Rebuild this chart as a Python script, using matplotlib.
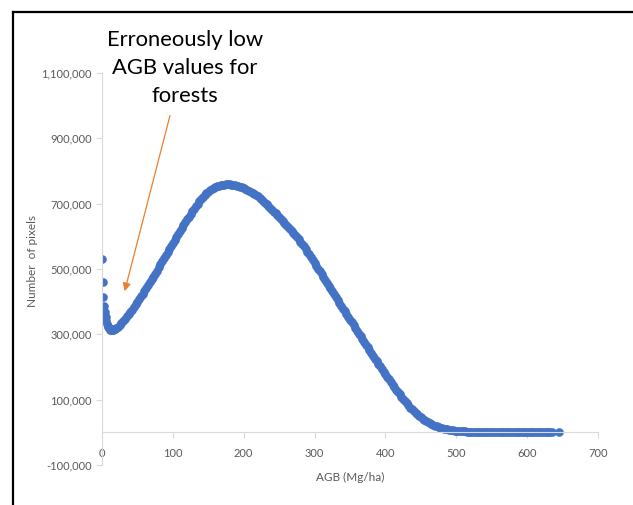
import matplotlib
matplotlib.use('Agg')
import matplotlib.pyplot as plt
from matplotlib.lines import Line2D
from matplotlib.ticker import FuncFormatter
import numpy as np

# AGB bin (Mg/ha) and pixel count (thousands)
agb = [0, 1, 2, 3, 4, 5, 6, 7, 8, 9, 10, 11, 12, 13, 14, 15, 16, 17, 18, 19,
       20, 22.5, 25, 27.5, 30, 32.5, 35, 37.5, 40, 42.5, 45, 47.5, 50, 52.5, 55, 57.5,
       60, 62.5, 65, 67.5, 70, 72.5, 75, 77.5, 80, 82.5, 85, 87.5, 90, 92.5, 95, 97.5,
       100, 102.5, 105, 107.5, 110, 112.5, 115, 117.5, 120, 122.5, 125, 127.5,
       130, 132.5, 135, 137.5, 140, 142.5, 145, 147.5, 150, 152.5, 155, 157.5,
       160, 162.5, 165, 167.5, 170, 172.5, 175, 177.5, 180, 182.5, 185, 187.5,
       190, 192.5, 195, 197.5, 200, 202.5, 205, 207.5, 210, 212.5, 215, 217.5,
       220, 222.5, 225, 227.5, 230, 232.5, 235, 237.5, 240, 242.5, 245, 247.5,
       250, 252.5, 255, 257.5, 260, 262.5, 265, 267.5, 270, 272.5, 275, 277.5,
       280, 282.5, 285, 287.5, 290, 292.5, 295, 297.5, 300, 302.5, 305, 307.5,
       310, 312.5, 315, 317.5, 320, 322.5, 325, 327.5, 330, 332.5, 335, 337.5,
       340, 342.5, 345, 347.5, 350, 352.5, 355, 357.5, 360, 362.5, 365, 367.5,
       370, 372.5, 375, 377.5, 380, 382.5, 385, 387.5, 390, 392.5, 395, 397.5,
       400, 402.5, 405, 407.5, 410, 412.5, 415, 417.5, 420, 422.5, 425, 427.5,
       430, 432.5, 435, 437.5, 440, 442.5, 445, 447.5, 450, 452.5, 455, 457.5,
       460, 462.5, 465, 467.5, 470, 472.5, 475, 477.5, 480, 482.5, 485, 487.5,
       490, 492.5, 495, 497.5, 500, 502.5, 505, 507.5, 510, 512.5, 515, 517.5,
       520, 522.5, 525, 527.5, 530, 532.5, 535, 537.5, 540, 542.5, 545, 547.5,
       550, 552.5, 555, 557.5, 560, 562.5, 565, 567.5, 570, 572.5, 575, 577.5,
       580, 582.5, 585, 587.5, 590, 592.5, 595, 597.5, 600, 602.5, 605, 607.5,
       610, 612.5, 615, 617.5, 620, 622.5, 625, 627.5, 630, 632.5, 635, 645]
pixels_k = [532, 461, 415, 388, 368, 352, 340, 331, 325, 321, 318, 316, 314, 313.5, 313, 313.5, 314, 315, 316, 317.5,
            319, 324, 329, 335, 341, 348, 355, 361, 368, 376, 384, 392, 400, 408, 417, 425,
            434, 442, 451, 459, 468, 477, 486, 495, 505, 514, 524, 533, 543, 552, 562, 571,
            580, 590, 599, 608, 617, 626, 635, 643, 652, 660, 669, 677,
            685, 692, 700, 707, 714, 720, 726, 732, 737, 741, 745, 748,
            751, 753, 755, 757, 758, 758.5, 759, 759, 759, 758.5, 758, 756.5,
            755, 753.5, 752, 750, 748, 745.5, 743, 740, 737, 733.5, 730, 726,
            722, 717.5, 713, 708, 703, 697.5, 692, 686.5, 681, 675.5, 670, 664.5,
            659, 653, 647, 641, 635, 628.5, 622, 615.5, 609, 603.5, 598, 591,
            584, 576.5, 569, 561, 553, 544.5, 536, 527.5, 519, 510, 501, 492.5,
            484, 475.5, 467, 458, 449, 440.5, 432, 423, 414, 405.5, 397, 388,
            379, 370.5, 362, 353.5, 345, 336.5, 328, 319.5, 311, 302.5, 294, 285.5,
            277, 268.5, 260, 251.5, 243, 234.5, 226, 218, 210, 202, 194, 186,
            178, 170, 162, 154, 146, 138.5, 131, 123.5, 116, 109, 102, 95.5,
            89, 82.5, 76, 70.5, 65, 60, 55, 50.5, 46, 42, 38, 34.5,
            31, 28, 25, 22.5, 20, 18, 16, 14.5, 13, 11.5, 10, 9,
            8, 7, 6, 5.5, 5, 4.5, 4, 3.5, 3, 2.8, 2.5, 2.2,
            2, 1.8, 1.5, 1.3, 1.2, 1.1, 1.0, 0.95, 0.9, 0.85, 0.8, 0.75,
            0.7, 0.7, 0.7, 0.65, 0.6, 0.6, 0.6, 0.55, 0.5, 0.5, 0.5, 0.5,
            0.5, 0.45, 0.4, 0.4, 0.4, 0.4, 0.4, 0.4, 0.4, 0.35, 0.3, 0.3,
            0.3, 0.3, 0.3, 0.3, 0.3, 0.3, 0.3, 0.3, 0.3, 0.3, 0.3, 0.2]
pixels = np.array(pixels_k) * 1000

xticks = [0, 100, 200, 300, 400, 500, 600, 700]
yticks = [-100000, 100000, 300000, 500000, 700000, 900000, 1100000]

grey = '#595959'
axis_grey = '#D9D9D9'

plt.rcParams['font.family'] = ['Lato', 'DejaVu Sans']

fig = plt.figure(figsize=(6.33, 5.05), dpi=100)
ax = fig.add_axes([0.1611, 0.0792, 0.7836, 0.7762])

ax.plot(agb, pixels, 'o', ms=6.2, mew=0, color='#4472C4')

ax.set_xlim(0, 700)
ax.set_ylim(-100000, 1100000)
ax.set_xticks(xticks)
ax.set_yticks(yticks)
ax.yaxis.set_major_formatter(FuncFormatter(lambda v, p: '{:,.0f}'.format(v)))

for s in ['top', 'right']:
    ax.spines[s].set_visible(False)
ax.spines['bottom'].set_position(('data', 0))
ax.spines['bottom'].set_color(axis_grey)
ax.spines['left'].set_color(axis_grey)
ax.tick_params(colors=axis_grey, labelcolor=grey, labelsize=8, length=4, width=0.8)
ax.tick_params(axis='x', pad=7)

ax.set_xlabel('AGB (Mg/ha)', fontsize=8.5, color=grey)
ax.xaxis.set_label_coords(0.5, -0.018)
ax.set_ylabel('Number  of pixels', fontsize=8.5, color=grey)
ax.yaxis.set_label_coords(-0.128, 0.52)

# annotation
ax.annotate('', xy=(32, 432000), xytext=(96, 970000),
            arrowprops=dict(arrowstyle='-|>', color='#ED7D31', lw=0.9,
                            mutation_scale=12, shrinkA=0, shrinkB=0))
fig.text(0.292, 0.865, 'Erroneously low\nAGB values for\nforests', ha='center', va='center',
         fontsize=15.8, color='black', linespacing=1.5)

# frame lines (left and top)
fig.add_artist(Line2D([13 / 633, 13 / 633], [0, 1 - 12 / 505], color='black', lw=1.6,
                      transform=fig.transFigure))
fig.add_artist(Line2D([13 / 633, 1], [1 - 12 / 505, 1 - 12 / 505], color='black', lw=1.6,
                      transform=fig.transFigure))

fig.savefig('out.png', dpi=100)
